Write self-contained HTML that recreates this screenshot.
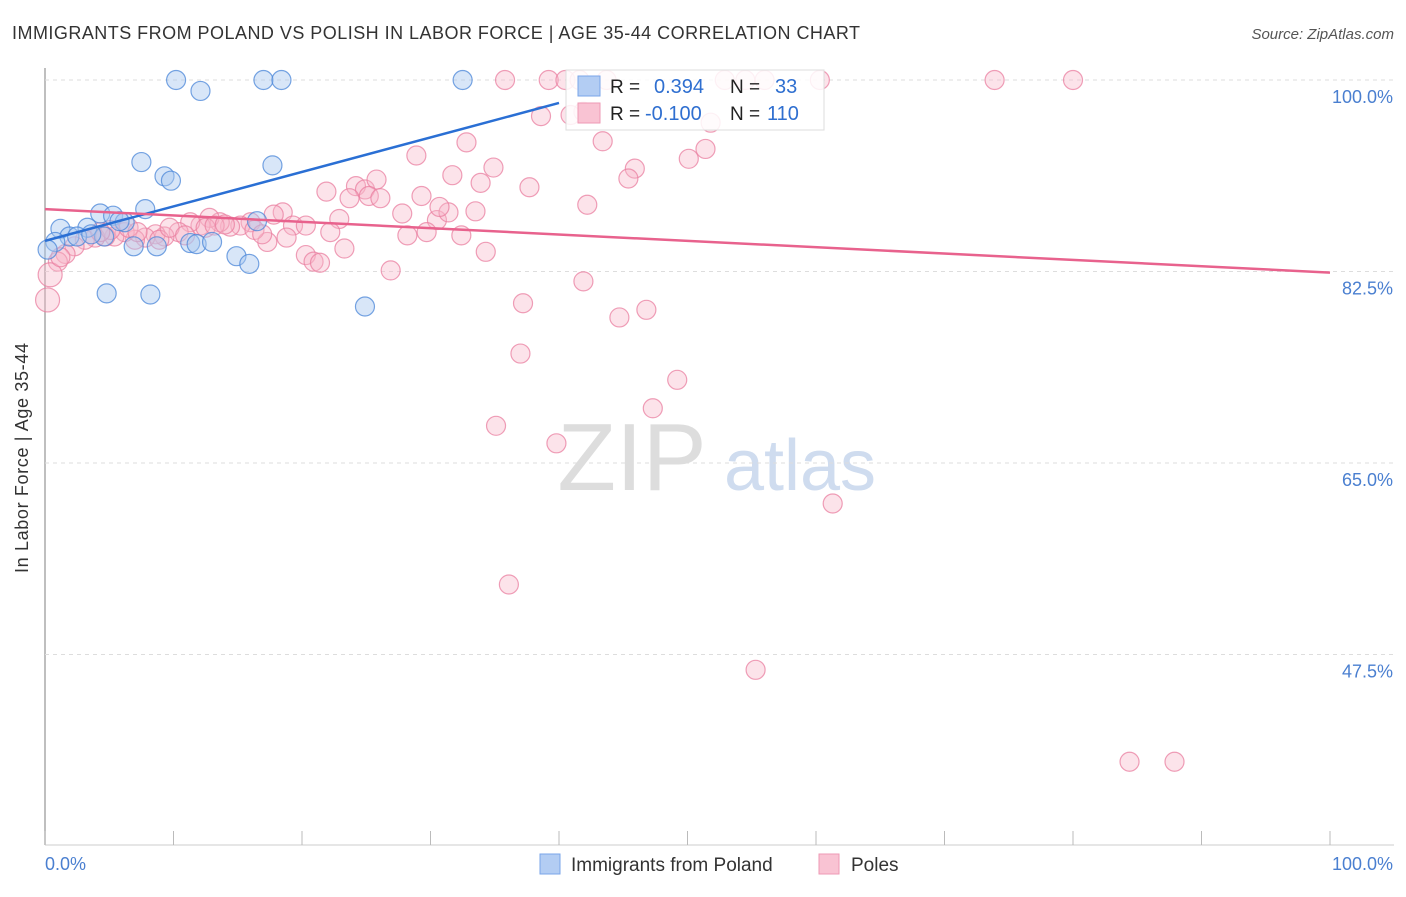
<!DOCTYPE html>
<html><head><meta charset="utf-8"><style>
body{margin:0;background:#fff;font-family:"Liberation Sans",Arial,sans-serif;}
svg text{font-family:"Liberation Sans",Arial,sans-serif;}
</style></head><body>
<svg id="c" width="1406" height="892">
<text x="12" y="39" font-size="18" fill="#333" textLength="848">IMMIGRANTS FROM POLAND VS POLISH IN LABOR FORCE | AGE 35-44 CORRELATION CHART</text>
<text x="1394" y="39" font-size="15" fill="#555" text-anchor="end" font-style="italic">Source: ZipAtlas.com</text>
<text x="632" y="490" font-size="96" fill="#ddd" font-family="Liberation Serif" text-anchor="middle">ZIP</text>
<text x="800" y="490" font-size="72" fill="#cfdcef" text-anchor="middle">atlas</text>
<g id="grid"></g><g id="pts"></g><g id="lines"></g>
<text x="28" y="458" font-size="18" fill="#333" text-anchor="middle" transform="rotate(-90 28 458)" textLength="230">In Labor Force | Age 35-44</text>
<text x="45" y="870" font-size="18" fill="#4a7fd0">0.0%</text>
<text x="1393" y="870" font-size="18" fill="#4a7fd0" text-anchor="end">100.0%</text>
<g>
<rect x="566" y="70" width="258" height="60" fill="#fff" fill-opacity="0.85" stroke="#ddd"/>
<rect x="578" y="76" width="22" height="20" fill="#b3cdf3" stroke="#7aa5e8"/>
<rect x="578" y="103" width="22" height="20" fill="#f9c3d3" stroke="#ee9ab4"/>
<text x="610" y="93" font-size="19" fill="#222">R =</text><text x="654" y="93" font-size="20" fill="#2f6fd0">0.394</text>
<text x="730" y="93" font-size="19" fill="#222">N =</text><text x="775" y="93" font-size="20" fill="#2f6fd0">33</text>
<text x="610" y="120" font-size="19" fill="#222">R =</text><text x="645" y="120" font-size="20" fill="#2f6fd0">-0.100</text>
<text x="730" y="120" font-size="19" fill="#222">N =</text><text x="767" y="120" font-size="20" fill="#2f6fd0">110</text>
</g>
<g>
<rect x="540" y="854" width="20" height="20" fill="#b3cdf3" stroke="#7aa5e8"/>
<text x="571" y="871" font-size="19" fill="#333">Immigrants from Poland</text>
<rect x="819" y="854" width="20" height="20" fill="#f9c3d3" stroke="#ee9ab4"/>
<text x="851" y="871" font-size="19" fill="#333">Poles</text>
</g>
</svg>
<script>
const yTicks=[100,82.5,65,47.5];
const yTickLabels=["100.0%","82.5%","65.0%","47.5%"];
const xTicks=[0,10,20,30,40,50,60,70,80,90,100];
const blueX=[10.2,12.1,17.0,18.4,32.5,7.5,9.3,9.8,17.7,7.8,4.3,5.3,6.2,16.5,1.2,3.3,1.9,2.5,0.8,0.2,4.6,6.9,8.7,11.3,11.8,13.0,14.9,15.9,4.8,8.2,24.9,5.8,3.6];
const blueY=[100,99.0,100,100,100,92.5,91.2,90.8,92.2,88.2,87.8,87.6,87.0,87.1,86.4,86.5,85.7,85.7,85.2,84.5,85.7,84.8,84.8,85.1,85.0,85.2,83.9,83.2,80.5,80.4,79.3,87.1,85.9];
const pinkX=[35.8,39.2,40.5,41.6,43.7,52.9,54.5,56.0,60.3,73.9,80.0,38.6,41.9,40.9,43.4,32.8,28.9,34.9,50.1,51.4,45.9,45.4,33.9,37.7,21.9,24.2,24.9,25.8,23.7,25.2,26.1,29.3,31.7,42.2,33.5,27.8,30.5,31.4,30.7,22.9,18.5,17.8,19.3,22.2,20.3,17.3,18.8,28.2,29.7,32.4,34.3,23.3,20.3,20.9,21.4,26.9,41.9,37.2,44.7,46.8,37.0,49.2,47.3,35.1,39.8,61.3,36.1,55.3,84.4,87.9,51.8,16.0,15.2,14.4,13.6,12.8,12.1,11.3,10.4,9.3,8.6,7.8,7.0,6.2,5.4,4.7,3.9,3.1,2.3,1.6,1.0,0.4,0.2,1.2,8.9,9.7,10.9,12.5,13.2,14.0,16.3,16.9,6.5,5.1,7.2,4.3];
const pinkY=[100,100,100,100,100,100,100,100,100,100,100,96.7,97.1,96.8,94.4,94.3,93.1,92.0,92.8,93.7,91.9,91.0,90.6,90.2,89.8,90.3,90.0,90.9,89.2,89.4,89.2,89.4,91.3,88.6,88.0,87.8,87.2,87.9,88.4,87.3,87.9,87.7,86.7,86.1,86.7,85.2,85.6,85.8,86.1,85.8,84.3,84.6,84.0,83.4,83.3,82.6,81.6,79.6,78.3,79.0,75.0,72.6,70.0,68.4,66.8,61.3,53.9,46.1,37.7,37.7,96.1,87.0,86.7,86.6,87.0,87.4,86.7,87.0,86.1,85.7,85.9,85.6,85.4,86.1,85.7,85.7,85.6,85.4,84.8,84.1,83.4,82.2,79.9,83.8,85.4,86.5,85.8,86.5,86.7,86.8,86.3,85.9,86.5,86.3,86.1,86.1];
const blueLineX=[0,40];const blueLineY=[85.3,97.9];
const pinkLineX=[0,100];const pinkLineY=[88.2,82.4];
const X0=45,X1=1330;
function sx(v){return X0+v/100*(X1-X0);}
function sy(v){return 80+(100-v)*191.5/17.5;}
const NS="http://www.w3.org/2000/svg";
const grid=document.getElementById('grid'),pts=document.getElementById('pts'),lines=document.getElementById('lines');
function mk(t,a,p){const e=document.createElementNS(NS,t);for(const k in a)e.setAttribute(k,a[k]);p.appendChild(e);return e;}
let ax=mk('line',{x1:45,y1:68,x2:45,y2:845,stroke:'#aaa','stroke-width':1.5},grid);


let bx=mk('line',{x1:45,y1:845,x2:1394,y2:845,stroke:'#ccc'},grid);


yTicks.forEach((t,i)=>{
 const g=mk('line',{x1:45,y1:sy(t),x2:1394,y2:sy(t),stroke:'#ddd','stroke-dasharray':'4,4'},grid);
 
 
 const l=mk('text',{x:1393,y:sy(t)+23,'font-size':18,fill:'#4a7fd0','text-anchor':'end'},grid);
 l.textContent=yTickLabels[i];
 
 
});
xTicks.forEach(t=>{
 const k=mk('line',{x1:sx(t),y1:831,x2:sx(t),y2:845,stroke:'#bbb'},grid);
 
 
});
function dot(x,y,fill,stroke,op,name){
 const r=(x<1&&y<83)?12:9.5;
 const c=mk('circle',{cx:sx(x),cy:sy(y),r:r,fill:fill,'fill-opacity':op,stroke:stroke,'stroke-opacity':0.75,'stroke-width':1.2},pts);
 
 
}
pinkX.forEach((x,i)=>dot(x,pinkY[i],'#f7b6c9','#ea7fa0',0.38,'poles-point'));
blueX.forEach((x,i)=>dot(x,blueY[i],'#a9c8f0','#4a86d8',0.45,'poland-point'));
const bl=mk('line',{x1:sx(blueLineX[0]),y1:sy(blueLineY[0]),x2:sx(blueLineX[1]),y2:sy(blueLineY[1]),stroke:'#2a6fd4','stroke-width':2.5},lines);


const pl=mk('line',{x1:sx(pinkLineX[0]),y1:sy(pinkLineY[0]),x2:sx(pinkLineX[1]),y2:sy(pinkLineY[1]),stroke:'#e8628d','stroke-width':2.5},lines);


</script>
</body></html>
